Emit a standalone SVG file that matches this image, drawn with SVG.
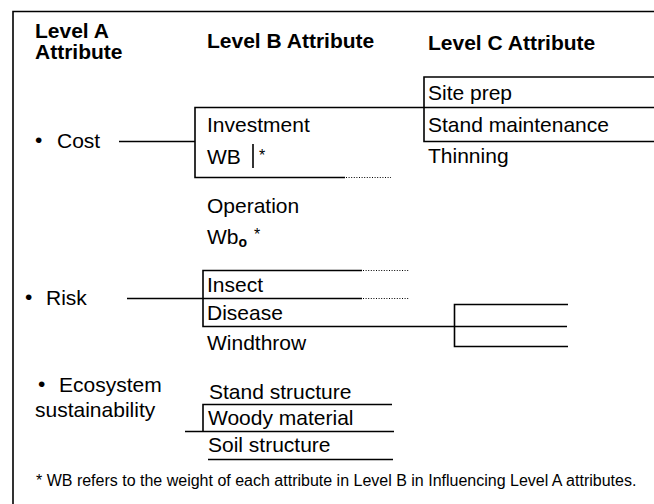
<svg xmlns="http://www.w3.org/2000/svg" width="654" height="504" viewBox="0 0 654 504">
<style>
text{font-family:"Liberation Sans",Arial,sans-serif;fill:#000}
.h{font-size:21px;font-weight:bold}
.t{font-size:21px}
.f{font-size:16px}
.ln{stroke:#000;stroke-width:1.6;fill:none}
.dt{stroke:#000;stroke-width:1;stroke-dasharray:1 1.6;fill:none}
</style>
<rect width="654" height="504" fill="#fff"/>
<path class="ln" d="M13,504 V11.5 H654" stroke-width="2"/>
<g id="headers">
<text class="h" x="35" y="38">Level A</text>
<text class="h" x="35" y="59">Attribute</text>
<text class="h" x="207" y="48">Level B Attribute</text>
<text class="h" x="428" y="50">Level C Attribute</text>
</g>
<g id="cost">
<text class="t" x="35" y="147" font-size="17">•</text>
<text class="t" x="57" y="148">Cost</text>
</g>
<g id="investment">
<text class="t" x="207" y="132">Investment</text>
<text class="t" x="207" y="164">WB</text>
<line class="ln" x1="253" y1="144" x2="253" y2="168"/>
<text class="f" x="259" y="161">*</text>
</g>
<g id="operation">
<text class="t" x="207" y="213">Operation</text>
<text class="t" x="207" y="244">Wb<tspan font-size="14" font-weight="bold" dy="3">o</tspan><tspan class="f" dx="7" dy="-7">*</tspan></text>
</g>
<g id="levelC-cost">
<text class="t" x="428" y="100">Site prep</text>
<text class="t" x="428" y="132">Stand maintenance</text>
<text class="t" x="428" y="163">Thinning</text>
</g>
<g id="risk">
<text class="t" x="25" y="304" font-size="17">•</text>
<text class="t" x="46" y="305">Risk</text>
</g>
<g id="risk-b">
<text class="t" x="207" y="292">Insect</text>
<text class="t" x="207" y="320">Disease</text>
<text class="t" x="207" y="350">Windthrow</text>
</g>
<g id="ecosystem">
<text class="t" x="38" y="391" font-size="17">•</text>
<text class="t" x="59" y="392">Ecosystem</text>
<text class="t" x="35" y="417">sustainability</text>
</g>
<g id="eco-b">
<text class="t" x="209" y="399">Stand structure</text>
<text class="t" x="208" y="425">Woody material</text>
<text class="t" x="208" y="452">Soil structure</text>
</g>
<g id="footnote">
<text class="f" x="36" y="486">* WB refers to the weight of each attribute in Level B in Influencing Level A attributes.</text>
</g>
<g id="connectors">
<path class="ln" d="M119,141.5 H195"/>
<path class="ln" d="M654,107.5 H195 V177.5 H345"/>
<path class="dt" d="M346,177.5 H391"/>
<path class="ln" d="M654,77 H424 V141.5 H654"/>
<path class="ln" d="M127,298.5 H362"/>
<path class="ln" d="M362,270.5 H203 V326.5 H567"/>
<path class="dt" d="M363,270.5 H409 M363,298.5 H409"/>
<path class="ln" d="M568,304.5 H454.5 V346.5 H568"/>
<path class="ln" d="M392,404.5 H203 V431.5"/>
<path class="ln" d="M185,431.5 H394"/>
<path class="ln" d="M208,459.5 H393"/>
</g>
</svg>
